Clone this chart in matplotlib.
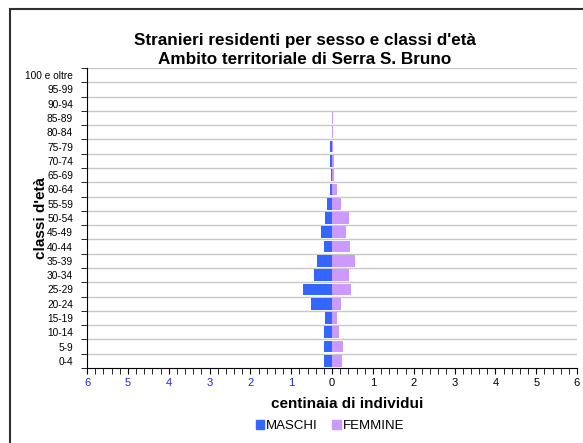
import matplotlib
matplotlib.use("Agg")
import matplotlib.pyplot as plt
from matplotlib.patches import Rectangle, Patch
from matplotlib.ticker import MultipleLocator, FixedLocator

plt.rcParams['font.family'] = ['Liberation Sans', 'DejaVu Sans']

categories = ["0-4", "5-9", "10-14", "15-19", "20-24", "25-29", "30-34", "35-39",
              "40-44", "45-49", "50-54", "55-59", "60-64", "65-69", "70-74",
              "75-79", "80-84", "85-89", "90-94", "95-99", "100 e oltre"]
maschi = [0.20, 0.20, 0.20, 0.17, 0.51, 0.71, 0.44, 0.37, 0.20, 0.27, 0.17, 0.12,
          0.05, 0.025, 0.05, 0.05, 0.0, 0.0, 0.0, 0.0, 0.0]
femmine = [0.25, 0.27, 0.17, 0.12, 0.22, 0.47, 0.42, 0.56, 0.44, 0.34, 0.42, 0.22,
           0.12, 0.05, 0.05, 0.025, 0.02, 0.02, 0.0, 0.0, 0.0]
xticks = [-6, -5, -4, -3, -2, -1, 0, 1, 2, 3, 4, 5, 6]

W, H = 583, 443
fig = plt.figure(figsize=(W / 100, H / 100), dpi=100)
ax = fig.add_axes([87 / W, (H - 368) / H, (577 - 87) / W, 300 / H])

# frame around the chart
fig.patches.append(Rectangle((10 / W, -0.1), 1.2, 1 - 9 / H + 0.1, transform=fig.transFigure,
                             fill=False, edgecolor='#303030', linewidth=1.5))

y = list(range(len(categories)))
ax.barh(y, [-m for m in maschi], height=0.82, color='#3366ff', zorder=3)
ax.barh(y, femmine, height=0.82, color='#cc99ff', zorder=3)

ax.set_xlim(-6, 6)
ax.set_ylim(-0.5, len(categories) - 0.5)

# gridlines at category boundaries
bounds = [i - 0.5 for i in range(len(categories) + 1)]
for b in bounds[1:]:
    ax.axhline(b, color='#c8c8c8', linewidth=1, zorder=1)

ax.set_yticks(y)
ax.set_yticklabels(categories, fontsize=7.3)
ax.yaxis.set_minor_locator(FixedLocator(bounds))
ax.tick_params(axis='y', which='major', length=0, pad=10)
ax.tick_params(axis='y', which='minor', length=4, direction='out', color='black')

ax.set_xticks(xticks)
ax.set_xticklabels([str(abs(v)) for v in xticks], fontsize=8)
for lbl, v in zip(ax.get_xticklabels(), xticks):
    lbl.set_color('#2222ee' if v < 0 else 'black')
ax.xaxis.set_minor_locator(MultipleLocator(0.2))
ax.tick_params(axis='x', which='both', length=4, direction='out', pad=3)

for s in ['top', 'right']:
    ax.spines[s].set_visible(False)
ax.spines['left'].set_color('black')
ax.spines['bottom'].set_color('black')

ax.set_xlabel("centinaia di individui", fontsize=11, fontweight='bold')
ax.xaxis.set_label_coords((347 - 87) / 490, -(404 - 368) / 300)
ax.xaxis.label.set_va('center')
ax.set_ylabel("classi d'età", fontsize=11, fontweight='bold')
ax.yaxis.set_label_coords((41 - 87) / 490, 0.5)
ax.yaxis.label.set_va('center')

fig.text(305 / W, 1 - 40 / H, "Stranieri residenti per sesso e classi d'età",
         ha='center', va='center', fontsize=12.3, fontweight='bold')
fig.text(305 / W, 1 - 60 / H, "Ambito territoriale di Serra S. Bruno",
         ha='center', va='center', fontsize=12.3, fontweight='bold')

handles = [Patch(color='#3366ff', label='MASCHI'), Patch(color='#cc99ff', label='FEMMINE')]
fig.legend(handles=handles, loc='center', bbox_to_anchor=(330 / W, 1 - 426 / H), ncol=2,
           frameon=False, fontsize=9.5, handlelength=0.65, handleheight=0.65,
           handletextpad=0.15, columnspacing=1.1)

fig.savefig("out.png", dpi=100)
